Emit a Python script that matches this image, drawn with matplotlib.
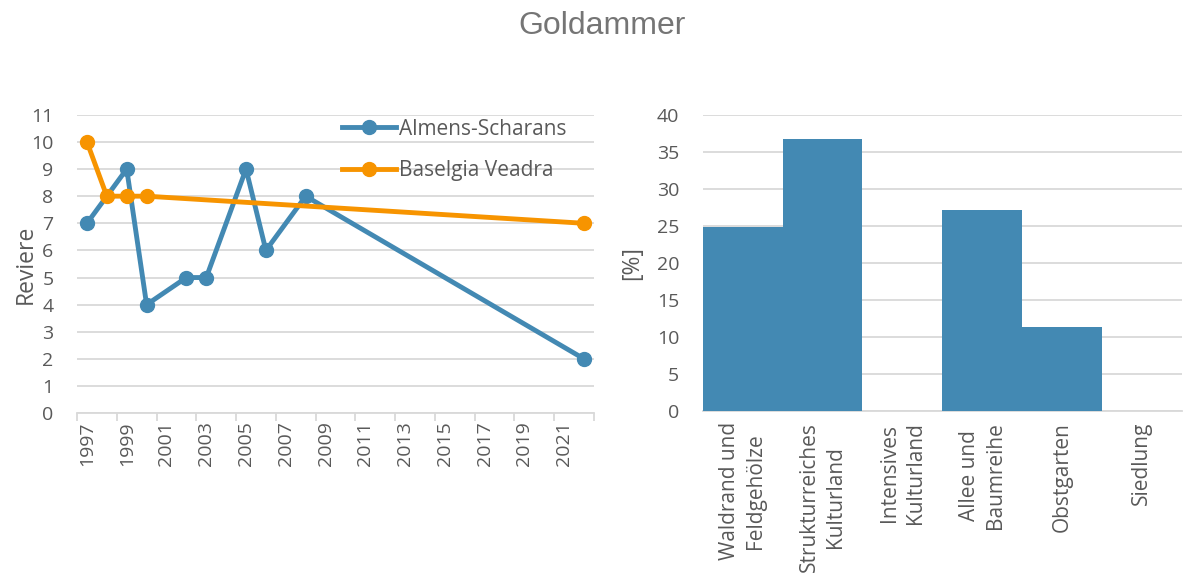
import matplotlib
matplotlib.use("Agg")
import matplotlib.pyplot as plt
from matplotlib.ticker import FixedLocator

plt.rcParams['font.family'] = ['Open Sans', 'DejaVu Sans']

title = "Goldammer"
years_a = [1997, 1999, 2000, 2002, 2003, 2005, 2006, 2008, 2022]
vals_a = [7, 9, 4, 5, 5, 9, 6, 8, 2]
years_b = [1997, 1998, 1999, 2000, 2022]
vals_b = [10, 8, 8, 8, 7]
name_a = "Almens-Scharans"
name_b = "Baselgia Veadra"
year_labels = list(range(1997, 2022, 2))

categories = ["Waldrand und\nFeldgehölze", "Strukturreiches\nKulturland",
              "Intensives\nKulturland", "Allee und\nBaumreihe", "Obstgarten", "Siedlung"]
percent = [24.8, 36.7, 0, 27.2, 11.3, 0]

BLUE = '#4389B3'
ORANGE = '#F79400'
GRAY = '#595959'
GRID = '#D9D9D9'
FS = 14

fig = plt.figure(figsize=(11.83, 5.77), dpi=100)
fig.text(0.509, 0.955, title, ha='center', va='center', fontsize=23, color='#757575',
         family='Liberation Sans')

# Left chart
ax1 = fig.add_axes([0.0651, 0.284, 0.437, 0.517])
ax1.plot(years_a, vals_a, color=BLUE, lw=3.5, marker='o', ms=10, label=name_a, zorder=3)
ax1.plot(years_b, vals_b, color=ORANGE, lw=3.5, marker='o', ms=10, label=name_b, zorder=4)
ax1.set_xlim(1996.5, 2022.5)
ax1.set_ylim(0, 11)
ax1.set_yticks(range(0, 12))
ax1.yaxis.grid(True, color=GRID, lw=1.3)
ax1.set_axisbelow(True)
ax1.set_xticks(year_labels)
ax1.set_xticklabels([str(y) for y in year_labels], rotation=90)
ax1.xaxis.set_minor_locator(FixedLocator([1996.5 + 2 * k for k in range(14)]))
ax1.tick_params(axis='x', which='major', length=0, pad=6, labelsize=FS, labelcolor=GRAY)
ax1.tick_params(axis='x', which='minor', length=6, color=GRID, width=1.3)
ax1.tick_params(axis='y', length=0, labelsize=FS, labelcolor=GRAY, pad=17)
for s in ['top', 'right', 'left']:
    ax1.spines[s].set_visible(False)
ax1.spines['bottom'].set_color(GRID)
ax1.spines['bottom'].set_linewidth(1.3)
ax1.set_ylabel("Reviere", fontsize=16.5, color=GRAY, labelpad=-5)
leg = ax1.legend(loc='upper left', bbox_to_anchor=(0.476, 1.05), frameon=False,
                 fontsize=15, handlelength=2.6, labelspacing=1.0, handletextpad=0.15)
for t in leg.get_texts():
    t.set_color(GRAY)

# Right chart
ax2 = fig.add_axes([0.594, 0.2877, 0.405, 0.5133])
x = list(range(len(categories)))
ax2.bar(x, percent, width=1.0, color=BLUE, zorder=3)
ax2.set_xlim(-0.5, len(categories) - 0.5)
ax2.set_ylim(0, 40)
ax2.set_yticks(range(0, 41, 5))
ax2.yaxis.grid(True, color=GRID, lw=1.3)
ax2.set_axisbelow(True)
ax2.set_xticks(x)
ax2.set_xticklabels(categories, rotation=90, ha='center', va='top',
                    multialignment='center', linespacing=1.3)
ax2.tick_params(axis='x', length=0, pad=8, labelsize=15, labelcolor=GRAY)
ax2.tick_params(axis='y', length=0, labelsize=FS, labelcolor=GRAY, pad=17)
for s in ['top', 'right', 'left']:
    ax2.spines[s].set_visible(False)
ax2.spines['bottom'].set_color(GRID)
ax2.spines['bottom'].set_linewidth(1.3)
ax2.set_ylabel("[%]", fontsize=16.5, color=GRAY, labelpad=9)

fig.savefig("out.png", dpi=100)
